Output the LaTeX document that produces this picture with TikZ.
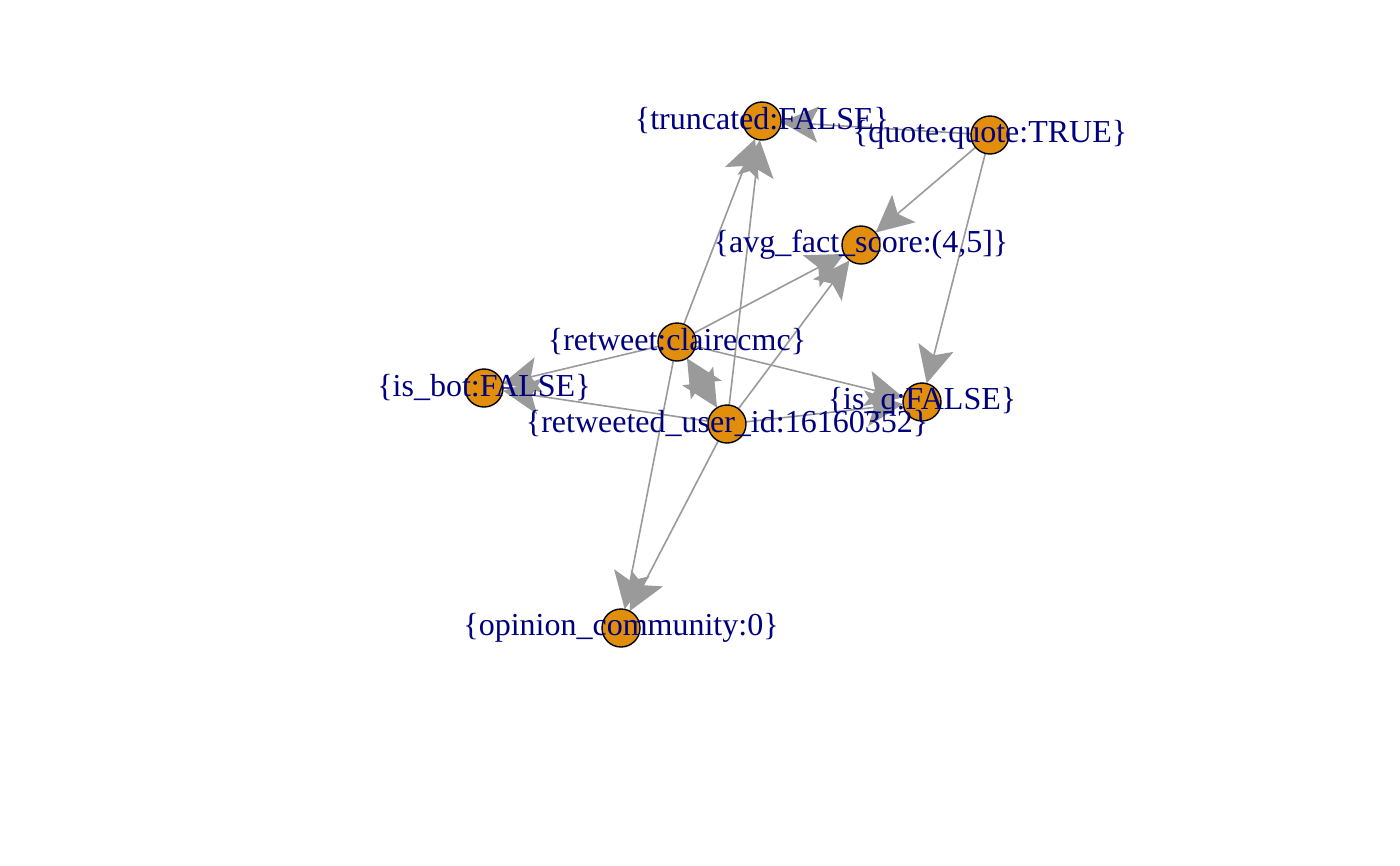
\documentclass[tikz,border=0pt]{standalone}
\usepackage{fontspec}
\setmainfont{Liberation Serif}
\usetikzlibrary{arrows.meta}
\definecolor{vfill}{HTML}{E08E0B}
\definecolor{lblue}{HTML}{00007F}
\definecolor{egray}{HTML}{9A9A9A}
\tikzset{
  vert/.style={circle, draw=black, line width=1.4pt, fill=vfill, minimum size=38pt, inner sep=0pt},
  lbl/.style={text=lblue, font=\fontsize{32}{36}\selectfont, inner sep=0pt},
  bighead/.tip={Stealth[length=37pt,width=36pt,inset=8pt]},
  edge/.style={draw=egray, line width=1.6pt, -bighead},
  bedge/.style={draw=egray, line width=1.6pt, bighead-bighead}
}
\begin{document}
\begin{tikzpicture}[x=1pt,y=-1pt]
\useasboundingbox (0,0) rectangle (1400,865);
\fill[white] (0,0) rectangle (1400,865);
% vertex positions
\coordinate (ptr) at (762,121);
\coordinate (pqu) at (990,135);
\coordinate (pav) at (861,245);
\coordinate (prt) at (677,342);
\coordinate (pbo) at (484,388);
\coordinate (prd) at (727,424);
\coordinate (pq) at (922,402);
\coordinate (pop) at (621,628);
% invisible border nodes for edge anchoring
\foreach \n in {tr,qu,av,rt,bo,rd,q,op}{
  \node[circle, minimum size=38pt, inner sep=0pt] (\n) at (p\n) {};
}
% edges
\draw[edge] (qu) -- (tr);
\draw[edge] (qu) -- (av);
\draw[edge] (qu) -- (q);
\draw[edge] (rt) -- (tr);
\draw[edge] (rd) -- (tr);
\draw[edge] (rt) -- (av);
\draw[edge] (rd) -- (av);
\draw[edge] (rt) -- (bo);
\draw[edge] (rd) -- (bo);
\draw[edge] (rt) -- (q);
\draw[edge] (rd) -- (q);
\draw[bedge] (rt) -- (rd);
\draw[edge] (rt) -- (op);
\draw[edge] (rd) -- (op);
% vertex discs
\foreach \n in {tr,qu,av,rt,bo,rd,q,op}{
  \node[vert] (v\n) at (p\n) {};
}
% labels
\node[lbl] (ltr) at (ptr) {\{truncated:FALSE\}};
\node[lbl] (lqu) at (pqu) {\{quote:quote:TRUE\}};
\node[lbl] (lav) at (pav) {\{avg\_fact\_score:(4,5]\}};
\node[lbl] (lrt) at (prt) {\{retweet:clairecmc\}};
\node[lbl] (lbo) at (pbo) {\{is\_bot:FALSE\}};
\node[lbl] (lrd) at (prd) {\{retweeted\_user\_id:16160352\}};
\node[lbl] (lq) at (pq) {\{is\_q:FALSE\}};
\node[lbl] (lop) at (pop) {\{opinion\_community:0\}};
\end{tikzpicture}
\end{document}
